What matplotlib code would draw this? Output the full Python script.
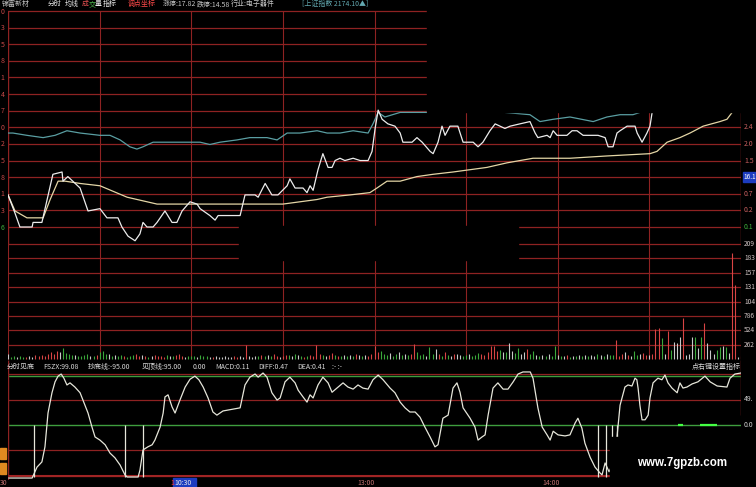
import numpy as np
import matplotlib.pyplot as plt
from matplotlib.patches import Rectangle

plt.rcParams['font.family'] = ['Noto Sans CJK SC', 'DejaVu Sans']

W, H = 756, 487

# price panel, minutes after 9:30 (lunch break removed, 0..240)
price_t = [0, 2.3, 3.9, 7.9, 8.2, 11.1, 14.7, 17.7, 18.0, 19.6, 23.6, 26.2, 30.1, 32.4, 36.0,
           37.3, 39.3, 41.6, 43.2, 44.2, 45.5, 47.5, 48.8, 51.4, 53.7, 55.3, 57.0, 59.6, 61.9,
           62.9, 66.1, 67.8, 68.8, 76.0, 77.6, 80.9, 81.9, 84.2, 86.4, 88.4, 91.4, 92.3, 94.0,
           96.6, 97.9, 98.9, 99.9, 101.5, 103.1, 104.8, 106.1, 107.1, 108.7, 110.3, 113.0, 115.3,
           117.9, 119.2, 120.2, 121.2, 122.5, 124.4, 126.7, 128.4, 129.3, 132.3, 133.9, 135.6,
           138.2, 139.2, 140.8, 142.1, 143.1, 144.7, 145.7, 147.3, 149.0, 150.6, 152.3, 153.9,
           155.5, 157.8, 159.5, 161.1, 162.7, 164.4, 167.6, 170.9, 172.6, 173.5, 176.5, 177.5,
           178.5, 179.8, 183.0, 184.7, 186.3, 188.3, 190.6, 193.2, 195.5, 196.5, 198.1, 199.4,
           200.4, 202.7, 205.3, 206.0, 207.6, 209.2, 210.2, 210.9, 213.0, 220.0, 230.0, 240.0]
price_v = [16.30, 16.22, 16.16, 16.16, 16.18, 16.18, 16.39, 16.40, 16.36, 16.38, 16.33, 16.23,
           16.24, 16.20, 16.20, 16.16, 16.12, 16.10, 16.13, 16.18, 16.16, 16.16, 16.18, 16.23,
           16.18, 16.18, 16.23, 16.27, 16.26, 16.24, 16.21, 16.19, 16.21, 16.21, 16.30, 16.30,
           16.29, 16.35, 16.30, 16.30, 16.34, 16.37, 16.33, 16.33, 16.31, 16.34, 16.32, 16.41,
           16.48, 16.42, 16.42, 16.45, 16.46, 16.45, 16.46, 16.45, 16.45, 16.49, 16.59, 16.67,
           16.63, 16.61, 16.60, 16.57, 16.53, 16.53, 16.55, 16.53, 16.49, 16.48, 16.53, 16.60,
           16.56, 16.60, 16.60, 16.60, 16.53, 16.53, 16.53, 16.51, 16.53, 16.58, 16.61, 16.60,
           16.59, 16.60, 16.61, 16.62, 16.57, 16.55, 16.56, 16.55, 16.58, 16.56, 16.56, 16.58,
           16.58, 16.56, 16.56, 16.56, 16.55, 16.51, 16.51, 16.57, 16.58, 16.60, 16.60, 16.57,
           16.53, 16.57, 16.60, 16.66, 16.75, 16.80, 16.85, 16.88]

avg_t = [0, 2.3, 6.2, 11.5, 13.8, 16.4, 18.7, 23.6, 30.1, 39.0, 48.8, 62.9, 76.0, 90.0, 101.2,
         104.5, 112.0, 118.5, 120.8, 124.1, 128.4, 133.9, 139.2, 145.7, 156.8, 163.4, 171.9,
         184.0, 196.1, 210.2, 212.5, 215.8, 220.0, 223.3, 227.6, 233.1, 235.4, 237.1, 240.0]
avg_v = [16.30, 16.23, 16.20, 16.20, 16.28, 16.36, 16.36, 16.35, 16.34, 16.29, 16.26, 16.26,
         16.26, 16.26, 16.28, 16.29, 16.30, 16.31, 16.33, 16.36, 16.36, 16.38, 16.39, 16.40,
         16.42, 16.44, 16.46, 16.46, 16.47, 16.48, 16.49, 16.53, 16.55, 16.57, 16.60, 16.62,
         16.63, 16.66, 16.67]

# index overlay, already scaled onto the price axis
idx_t = [0, 1.6, 6.2, 11.5, 15.4, 19.3, 23.6, 30.1, 33.4, 36.7, 39.9, 42.2, 44.2, 47.5, 52.1,
         56.3, 62.9, 66.1, 69.4, 75.0, 79.2, 84.8, 88.1, 91.4, 95.6, 101.2, 104.5, 108.7, 113.0,
         117.9, 119.5, 121.2, 123.4, 128.4, 132.6, 137.2, 144.7, 154.5, 162.7, 170.9, 174.2,
         178.5, 184.0, 191.6, 196.1, 200.4, 204.6, 206.9, 213.5, 240.0]
idx_v = [16.57, 16.57, 16.56, 16.55, 16.56, 16.58, 16.57, 16.56, 16.56, 16.54, 16.51, 16.50,
         16.51, 16.53, 16.53, 16.53, 16.53, 16.52, 16.53, 16.54, 16.55, 16.55, 16.54, 16.57,
         16.57, 16.58, 16.57, 16.57, 16.58, 16.57, 16.61, 16.66, 16.64, 16.66, 16.66, 16.66,
         16.69, 16.70, 16.66, 16.65, 16.62, 16.63, 16.64, 16.62, 16.64, 16.65, 16.65, 16.66,
         16.69, 16.71]

price_low, price_high, price_rows = 16.16, 17.1025, 14
left_digits = ['6', '3', '1', '8', '5', '2', '0', '7', '4', '1', '8', '5', '3', '0']
right_pct = ['0.1', '0.2', '0.7', '', '1.5', '2.0', '2.4']

# volume per minute (hands) and bar colour code r / g / w
vol = [90, 40, 60, 30, 50, 40, 30, 60, 45, 70,
       50, 80, 60, 90, 120, 100, 140, 130, 200, 110,
       90, 70, 80, 60, 50, 70, 90, 60, 50, 80,
       120, 150, 100, 90, 60, 70, 50, 80, 60, 40,
       50, 70, 90, 60, 80, 50, 40, 60, 70, 50,
       60, 40, 80, 60, 50, 70, 90, 60, 40, 50,
       60, 50, 40, 70, 60, 50, 40, 30, 50, 40,
       40, 50, 30, 40, 60, 40, 50, 30, 260, 50,
       40, 60, 50, 70, 60, 80, 50, 90, 60, 40,
       50, 70, 80, 60, 90, 70, 50, 40, 60, 80,
       60, 250, 90, 70, 60, 80, 110, 70, 60, 50,
       70, 60, 80, 50, 90, 70, 60, 80, 60, 90,
       230, 120, 140, 100, 80, 110, 60, 90, 120, 70,
       100, 80, 90, 270, 120, 80, 90, 60, 210, 100,
       180, 90, 60, 120, 80, 60, 100, 90, 70, 50,
       70, 90, 60, 80, 110, 90, 70, 120, 230, 240,
       150, 170, 130, 120, 290, 140, 110, 200, 90, 120,
       180, 90, 150, 80, 60, 70, 50, 90, 60, 230,
       80, 60, 50, 70, 40, 60, 50, 80, 60, 70,
       50, 80, 60, 90, 70, 60, 100, 80, 70, 340,
       60, 90, 130, 80, 60, 150, 70, 90, 110, 80,
       80, 100, 550, 560, 380, 90, 510, 160, 310, 290,
       400, 750, 70, 90, 400, 400, 200, 400, 650, 300,
       160, 90, 160, 220, 240, 220, 110, 1930, 1350, 40,
       60]
vol_col = ("wggwggrwwr" "rrrrrrrwgg" "ggwggggwgr" "gggwgwggrg" "ggrrwrgwrr"
           "rrgwgrrrwg" "ggwgggwrww" "wwwwrrwwrw" "wwgrgwgrrw" "rrgwgwgrgr"
           "rrrgwrrgrg" "wgwgrwgwrr" "rrgggwggwg" "wgrrgggwgg" "wrgrgwrwwg"
           "gwgggrrrrr" "rgwgwwggww" "rggwgwgwgg" "wgwrgwgwgw" "gwwgwgwggr"
           "rrwrwggwrr" "wrrrgwrgww" "wrwwwgwgrw" "wwggwgwrrw" "r")
vol_rows = [262, 524, 786, 1048, 1310, 1572, 1834, 2096]
vol_labels = ['262', '524', '786', '104', '131', '157', '183', '209']

# FSZX indicator
fszx_t = [0.3, 7.9, 9.5, 11.1, 12.1, 13.1, 14.4, 15.4, 16.4, 17.4,
          18.3, 19.3, 20.3, 21.9, 23.6, 25.2, 26.2, 27.5, 28.5, 30.1,
          31.8, 33.4, 35.0, 36.7, 38.3, 39.0, 42.6, 43.2, 44.2, 45.8,
          47.2, 48.1, 49.8, 50.8, 51.4, 52.4, 53.7, 54.7, 56.3, 58.0,
          59.6, 61.2, 62.5, 63.9, 65.5, 67.1, 68.4, 70.4, 76.0,
          77.6, 79.2, 80.9, 81.9, 83.5, 84.8, 86.4, 88.1, 89.1, 90.7,
          92.3, 94.0, 95.0, 96.6, 97.9, 98.9, 99.9, 101.5, 103.1, 104.8,
          106.1, 107.7, 109.7, 111.3, 113.0, 114.6, 116.2, 117.9, 119.5, 121.2,
          122.8, 125.1, 126.7, 128.4, 130.0, 131.6, 133.3, 134.9, 136.5, 138.2,
          139.8, 140.8, 142.4, 144.1, 145.7, 147.0, 148.0, 149.0, 151.3, 152.9,
          153.9, 155.2, 156.2, 157.2, 158.8, 160.4, 162.1, 163.7, 165.4, 167.0,
          168.6, 171.0, 171.9, 173.5, 174.9, 176.5, 177.5, 178.5, 180.1, 182.4,
          184.0, 185.7, 186.6, 187.9, 188.9, 190.6, 192.2, 193.8, 194.5, 195.5,
          196.8, 197.8, 198.7, 199.4, 200.4, 202.0, 203.0, 204.3, 205.3, 205.9,
          206.3, 206.9, 207.6, 208.6, 209.6, 210.2, 211.2, 212.8, 214.1, 215.1,
          216.1, 217.4, 219.1, 220.0, 221.0, 222.3, 224.0, 225.9, 228.2, 229.9,
          232.2, 235.4, 236.4, 238.0, 240.0]
fszx_v = [-102, -102, -81, -71, -42, 23, 62, 83, 94, 98,
          90, 77, 81, 73, 62, 38, 23, -4, -23, -29,
          -38, -54, -63, -77, -96, -100, -100, -87, -48, -42,
          -38, -29, -4, 23, 54, 58, 35, 23, 48, 73,
          88, 94, 87, 73, 52, 25, 19, 27, 33,
          77, 92, 98, 92, 100, 92, 62, 48, 52, 83,
          92, 81, 67, 54, 44, 58, 52, 77, 92, 81,
          63, 71, 81, 73, 69, 77, 71, 69, 87, 96,
          87, 71, 62, 44, 33, 25, 25, 15, -4, -23,
          -42, -38, 13, 19, 71, 81, 63, 33, 13, -4,
          -29, -23, -19, 19, 71, 81, 69, 69, 83, 98,
          102, 102, 90, 33, -4, -19, -29, -12, -19, -21,
          -19, 4, 13, -6, -35, -62, -81, -92, -96, -73,
          -90, -77, -38, -23, 38, 73, 77, 75, 90, 87,
          71, 38, 10, 10, 19, 52, 81, 90, 87, 96,
          81, 71, 62, 81, 71, 73, 79, 83, 94, 83,
          75, 73, 90, 98, 100]
stick_t = [8.5, 38.3, 44.2, 193.2, 195.8, 197.8, 199.4]
zero_marks = [(219.4, 221.0), (226.6, 232.2)]
ind_grid = [97.9, 48.95, -48.95, -97.9]
ind_green = [95, 0]

half_hours = [30, 60, 90, 120, 150, 180, 210]
time_labels = ['30', '10:30', '13:00', '14:00']

GRID = '#8e2222'
FS = 5.0


def px_axes(x0, y0, x1, y1):
    ax = fig.add_axes([x0 / W, 1 - y1 / H, (x1 - x0) / W, (y1 - y0) / H])
    ax.set_facecolor('none')
    ax.axis('off')
    ax.set_xlim(0, 240)
    return ax


def ftext(x, y, s, **kw):
    kw.setdefault('fontsize', FS)
    kw.setdefault('va', 'center')
    fig.text(x / W, 1 - y / H, s, **kw)


def black_box(x0, y0, x1, y1, color='black', z=10):
    fig.add_artist(Rectangle((x0 / W, 1 - y1 / H), (x1 - x0) / W, (y1 - y0) / H,
                             transform=fig.transFigure, color=color, zorder=z))


fig = plt.figure(figsize=(W / 100, H / 100), dpi=100, facecolor='black')

# ---- price panel ----
k = (price_high - price_low) / 216.0
ax_p = px_axes(8, 0, 741, 250)
ax_p.set_ylim(price_low - 23 * k, price_high + 11 * k)
rows = np.linspace(price_low, price_high, price_rows)
for p in rows:
    ax_p.axhline(p, color=GRID, lw=0.9, zorder=1)
ax_p.vlines(half_hours, price_low - 17 * k, price_high, color=GRID, lw=0.8, zorder=1)
ax_p.vlines([0, 240], price_low - 17 * k, price_high, color=GRID, lw=1.0, zorder=1)
ax_p.plot(idx_t, idx_v, color='#5a9ea2', lw=0.9, zorder=3)
ax_p.plot(avg_t, avg_v, color='#e4d6a6', lw=0.9, zorder=3)
ax_p.plot(price_t, price_v, color='#ececec', lw=0.9, zorder=4)

# ---- volume panel ----
vk = 2096 / 115.0
ax_v = px_axes(8, 240, 741, 360)
ax_v.set_ylim(-vk, 2096 + 4 * vk)
for v in vol_rows:
    ax_v.axhline(v, color=GRID, lw=0.9, zorder=1)
ax_v.vlines(half_hours + [0, 240], 0, 2096, color=GRID, lw=0.8, zorder=1)
cmap = {'r': '#d84444', 'g': '#3aa83a', 'w': '#c8c8c8'}
vt = np.arange(len(vol))
ax_v.vlines(vt, 0, vol, colors=[cmap[c] for c in vol_col], lw=0.8, zorder=3)

# ---- indicator panel ----
ax_i = px_axes(8, 360, 741, 480)
ax_i.set_ylim((425 - 480) / 0.52, (425 - 360) / 0.52)
for g in ind_grid:
    ax_i.axhline(g, color=GRID, lw=0.9, zorder=1)
ax_i.axhline(-97.9, color='#a02424', lw=1.5, zorder=1)
for g in ind_green:
    ax_i.axhline(g, color='#3e9e3e', lw=1.0, zorder=2)
for a, b in zero_marks:
    ax_i.hlines(0, a, b, color='#44ff44', lw=1.6, zorder=3)
ax_i.vlines([0], -105, 125, color=GRID, lw=1.0)
ax_i.vlines([240], 20, 125, color=GRID, lw=1.0)
ax_i.vlines(stick_t, -100, 0, color='#e6e6da', lw=0.9, zorder=4)
ax_i.plot(fszx_t, fszx_v, color='#e6e6da', lw=0.9, zorder=4)

# ---- blacked out regions of the screenshot ----
black_box(427, 0, 756, 112)
black_box(239, 226, 518, 260)
black_box(610, 437, 756, 487)

# ---- header ----
hdr = [(2, '锦富新材', '#c4c4c4'), (48, '分时', '#e8e8e8'), (65, '均线', '#e8e8e8'),
       (82, '成', '#e05050'), (88.5, '交', '#50c050'), (95, '量', '#e8e8e8'),
       (103, '指标', '#e8e8e8'), (128, '调点坐标', '#ff4a4a'),
       (163, '涨停:17.82', '#c4c4c4'), (197, '跌停:14.58', '#c4c4c4'),
       (231, '行业:电子器件', '#c4c4c4'), (302, '[上证指数 2174.10▲]', '#62a8b0')]
for x, s, c in hdr:
    ftext(x, 4, s, color=c)

# left / right axis labels of price panel
ypix = 227 - (rows - price_low) / k
for y, d in zip(ypix, left_digits):
    ftext(0.5, y + 0.5, d, color='#3cb03c' if d == left_digits[0] else '#c84848')
for y, s in zip(ypix, right_pct):
    if s:
        ftext(744, y, s, color='#3cb03c' if s == right_pct[0] else '#c86060')
black_box(743, 172, 756, 182, color='#1c3cc0', z=11)
ftext(743, 177, '16.1', color='white', fontsize=4.7, zorder=12)

for v, s in zip(vol_rows, vol_labels):
    ftext(744, 359 - v / vk, s, color='#d0c4c4', fontsize=4.8)

# indicator header
ind_hdr = [(7, '分时见底'), (43, 'FSZX:99.08'), (88, '抄底线:-95.00'), (142, '见顶线:95.00'),
           (193, '0.00'), (215, 'MACD:0.11'), (258, 'DIFF:0.47'), (297, 'DEA:0.41'), (332, ':- :-')]
for x, s in ind_hdr:
    ftext(x, 367, s, color='#d8d8d8')
ftext(741, 367, '点右键设置指标', color='#d8d8d8', ha='right')
ftext(744, 399, '49.', color='#d0d0d0')
ftext(744, 425, '0.0', color='#d0d0d0')

# time axis
black_box(173, 478, 196, 487, color='#1c3cc0', z=11)
for x, s in zip([0, 174, 357, 542], time_labels):
    ftext(x, 483, s, color='#e8e8e8' if s == '10:30' else '#c07070', zorder=12)
ftext(170.5, 483, '1', color='#ff3030', zorder=12)

# small orange tags at lower left
for y0 in [448, 463]:
    black_box(0, y0, 6, y0 + 11, color='#e08a20', z=11)

ftext(637, 463, 'www.7gpzb.com', color='white', fontsize=8.3, fontweight='bold',
      family='Liberation Sans', zorder=12)

fig.savefig('out.png', dpi=100, facecolor='black')
